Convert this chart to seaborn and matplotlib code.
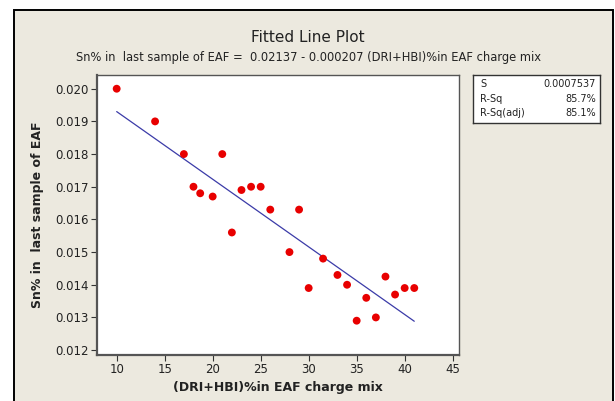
import matplotlib
matplotlib.use("Agg")
import matplotlib.pyplot as plt
import seaborn as sns
import numpy as np
import pandas as pd
from matplotlib.patches import Rectangle

# ---- data ----
dri_hbi = [10, 14, 17, 18, 18.7, 20, 21, 22, 23, 24, 25, 26, 28, 29, 30, 31.5,
           33, 34, 35, 36, 37, 38, 39, 40, 41]
sn_pct = [0.0200, 0.0190, 0.0180, 0.0170, 0.0168, 0.0167, 0.0180, 0.0156, 0.0169,
          0.0170, 0.0170, 0.0163, 0.0150, 0.0163, 0.0139, 0.0148, 0.0143, 0.0140,
          0.0129, 0.0136, 0.0130, 0.01425, 0.0137, 0.0139, 0.0139]
fit_intercept = [0.02137]
fit_slope = [-0.000207]
stat_names = ["S", "R-Sq", "R-Sq(adj)"]
stat_values = ["0.0007537", "85.7%", "85.1%"]
x_ticks = [10, 15, 20, 25, 30, 35, 40, 45]
y_ticks = [0.012, 0.013, 0.014, 0.015, 0.016, 0.017, 0.018, 0.019, 0.020]

df = pd.DataFrame({"x": dri_hbi, "y": sn_pct})
x_line = [min(dri_hbi), max(dri_hbi)]
line_df = pd.DataFrame({"x": x_line,
                        "y": [fit_intercept[0] + fit_slope[0] * v for v in x_line]})

sns.set_theme(style="white")
plt.rcParams["font.family"] = ["DejaVu Sans"]

W, H = 615, 401
fig = plt.figure(figsize=(W / 100, H / 100), dpi=100)
fig.patch.set_facecolor("white")
beige = "#ECE9DF"
bg = Rectangle((14 / W, -0.02), (612.5 - 14) / W, 1 - 10 / H + 0.02,
               transform=fig.transFigure, facecolor=beige,
               edgecolor="black", linewidth=1.4, zorder=-10)
fig.patches.append(bg)

ax = fig.add_axes([97 / W, 1 - 355 / H, (459 - 97) / W, (355 - 75) / H])
ax.set_zorder(1)
ax.set_facecolor("white")

sns.lineplot(data=line_df, x="x", y="y", ax=ax, color="#3B3BA8", linewidth=0.9)
sns.scatterplot(data=df, x="x", y="y", ax=ax, color="#E80000", s=32,
                edgecolor="none", zorder=3)

ax.set_xlim(7.95, 45.66)
ax.set_ylim(0.01185, 0.02042)
ax.set_xticks(x_ticks)
ax.set_yticks(y_ticks)
ax.set_yticklabels([f"{v:.3f}" for v in y_ticks])
ax.tick_params(axis="both", which="both", direction="out", length=4, width=0.8,
               color="#333333", labelsize=8.5, labelcolor="#222222", pad=2,
               bottom=True, left=True)
for sp in ax.spines.values():
    sp.set_color("#555555")
    sp.set_linewidth(1.0)
for name in ["left", "bottom"]:
    ax.spines[name].set_linewidth(1.6)

ax.set_xlabel("(DRI+HBI)%in EAF charge mix", fontsize=9, fontweight="bold",
              color="#222222", labelpad=3)
ax.set_ylabel("Sn% in  last sample of EAF", fontsize=9, fontweight="bold",
              color="#222222", labelpad=8)

fig.text(308 / W, 1 - 38 / H, "Fitted Line Plot", ha="center", va="center",
         fontsize=11, color="#222222")
fig.text(308 / W, 1 - 57 / H,
         "Sn% in  last sample of EAF =  0.02137 - 0.000207 (DRI+HBI)%in EAF charge mix",
         ha="center", va="center", fontsize=8.3, color="#222222")

# stats box
bx = fig.add_axes([473 / W, 1 - 123 / H, (600 - 473) / W, (123 - 75) / H])
bx.set_zorder(1)
bx.set_facecolor("white")
bx.set_xticks([])
bx.set_yticks([])
for sp in bx.spines.values():
    sp.set_color("#333333")
    sp.set_linewidth(1.0)
ys = [84, 99, 113]
for name, val, yy in zip(stat_names, stat_values, ys):
    fig.text(480 / W, 1 - yy / H, name, ha="left", va="center", fontsize=7,
             color="#222222", zorder=5)
    fig.text(596 / W, 1 - yy / H, val, ha="right", va="center", fontsize=7,
             color="#222222", zorder=5)

fig.savefig("out.png", dpi=100, facecolor=fig.get_facecolor())
